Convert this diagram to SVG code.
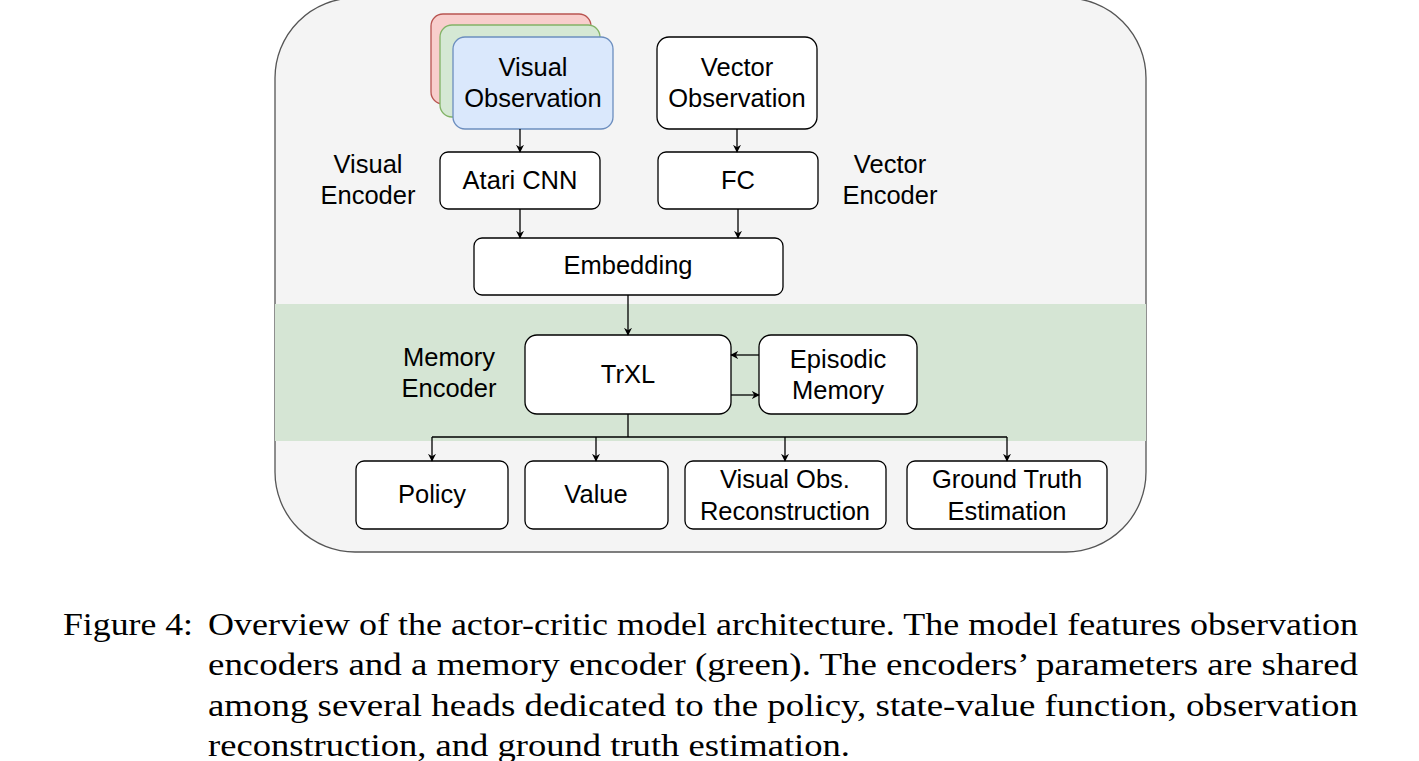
<svg xmlns="http://www.w3.org/2000/svg" width="1419" height="761" viewBox="0 0 1419 761">
<style>
.n{fill:#fff;stroke:#000;stroke-width:1.3}
.t{font-family:"Liberation Sans",Arial,sans-serif;font-size:25.5px;text-anchor:middle;fill:#000}
.c{font-family:"Liberation Serif","Times New Roman",serif;font-size:32px;fill:#000}
.e{fill:none;stroke:#000;stroke-width:1.3;marker-end:url(#a)}
</style>
<defs><marker id="a" viewBox="0 0 10 10" refX="9" refY="5" markerWidth="8" markerHeight="8" markerUnits="userSpaceOnUse" orient="auto"><path d="M0,0L10,5L0,10L3,5z" fill="#000"/></marker></defs>
<rect width="1419" height="761" fill="#fff"/>
<rect x="275" y="-2" width="871" height="554" rx="80" fill="#f4f4f4" stroke="#555" stroke-width="1.3"/>
<rect x="275" y="304" width="871" height="137" fill="#d5e5d4"/>
<g id="visobs">
<rect x="431" y="14" width="160" height="90" rx="12" fill="#f8cecc" stroke="#b85450" stroke-width="1.3"/>
<rect x="440" y="25" width="160" height="92" rx="12" fill="#d5e8d4" stroke="#82b366" stroke-width="1.3"/>
<rect x="453" y="37" width="160" height="92" rx="12" fill="#dae8fc" stroke="#6c8ebf" stroke-width="1.3"/>
<text class="t" x="533" y="76">Visual</text><text class="t" x="533" y="107">Observation</text></g>
<g id="vecobs"><rect class="n" x="657" y="37" width="160" height="92" rx="12"/><text class="t" x="737" y="76">Vector</text><text class="t" x="737" y="107">Observation</text></g>
<g id="cnn"><rect class="n" x="440" y="152" width="160" height="57" rx="8"/><text class="t" x="520" y="189">Atari CNN</text></g>
<g id="fc"><rect class="n" x="658" y="152" width="160" height="57" rx="8"/><text class="t" x="738" y="189">FC</text></g>
<g id="emb"><rect class="n" x="474" y="238" width="309" height="57" rx="8"/><text class="t" x="628" y="274">Embedding</text></g>
<g id="trxl"><rect class="n" x="525" y="335" width="206" height="79" rx="12"/><text class="t" x="628" y="383">TrXL</text></g>
<g id="epi"><rect class="n" x="759" y="335" width="158" height="79" rx="12"/><text class="t" x="838" y="368">Episodic</text><text class="t" x="838" y="399">Memory</text></g>
<g id="policy"><rect class="n" x="356" y="461" width="152" height="68" rx="8"/><text class="t" x="432" y="503">Policy</text></g>
<g id="value"><rect class="n" x="525" y="461" width="143" height="68" rx="8"/><text class="t" x="596" y="503">Value</text></g>
<g id="vrec"><rect class="n" x="685" y="461" width="201" height="68" rx="8"/><text class="t" x="785" y="488">Visual Obs.</text><text class="t" x="785" y="520">Reconstruction</text></g>
<g id="gt"><rect class="n" x="907" y="461" width="200" height="68" rx="8"/><text class="t" x="1007" y="488">Ground Truth</text><text class="t" x="1007" y="520">Estimation</text></g>
<g id="labels">
<text class="t" x="368" y="173">Visual</text><text class="t" x="368" y="204">Encoder</text>
<text class="t" x="890" y="173">Vector</text><text class="t" x="890" y="204">Encoder</text>
<text class="t" x="449" y="366">Memory</text><text class="t" x="449" y="397">Encoder</text>
</g>
<g id="edges">
<path class="e" d="M520,129V152"/>
<path class="e" d="M737,129V152"/>
<path class="e" d="M520,209V238"/>
<path class="e" d="M738,209V238"/>
<path class="e" d="M628,295V335"/>
<path class="e" d="M759,355H731"/>
<path class="e" d="M731,395H759"/>
<path d="M628,414V437M432,437H1007" fill="none" stroke="#000" stroke-width="1.3"/>
<path class="e" d="M432,437V461"/>
<path class="e" d="M596,437V461"/>
<path class="e" d="M785,437V461"/>
<path class="e" d="M1007,437V461"/>
</g>
<g id="caption">
<text class="c" x="63" y="635" textLength="130" lengthAdjust="spacingAndGlyphs">Figure 4:</text>
<text class="c" x="208" y="635" textLength="1150" lengthAdjust="spacingAndGlyphs">Overview of the actor-critic model architecture. The model features observation</text>
<text class="c" x="208" y="675" textLength="1150" lengthAdjust="spacingAndGlyphs">encoders and a memory encoder (green). The encoders’ parameters are shared</text>
<text class="c" x="208" y="716" textLength="1150" lengthAdjust="spacingAndGlyphs">among several heads dedicated to the policy, state-value function, observation</text>
<text class="c" x="208" y="756" textLength="642" lengthAdjust="spacingAndGlyphs">reconstruction, and ground truth estimation.</text>
</g>
</svg>
